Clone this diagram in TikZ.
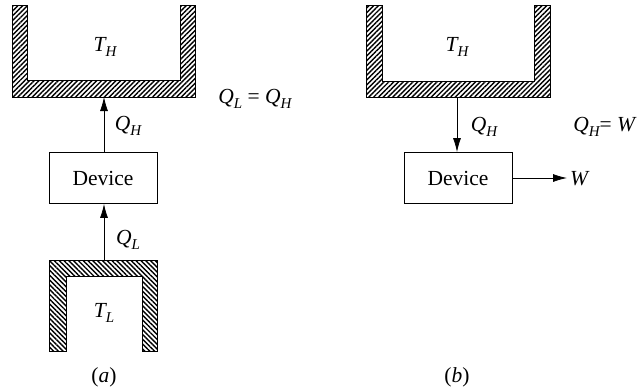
\documentclass[tikz,border=0pt]{standalone}
\usepackage{fontspec}
\setmainfont{Liberation Serif}
\usetikzlibrary{patterns.meta,arrows.meta}
\newcommand{\qsub}[2]{{\itshape #1}\raisebox{-0.45ex}{\fontsize{15}{15}\selectfont\itshape #2}}
\begin{document}
\begin{tikzpicture}[x=1pt,y=-1pt,
  wall/.style={draw=black,line width=0.9pt},
  hatchNE/.style={pattern={Lines[angle=45,distance=3.4pt,line width=1.4pt]}},
  hatchNW/.style={pattern={Lines[angle=-45,distance=3.4pt,line width=1.4pt]}},
  devbox/.style={draw,line width=0.8pt,minimum width=108pt,minimum height=51pt,inner sep=0pt,font=\fontsize{21.5}{24}\selectfont},
  lbl/.style={font=\fontsize{21.5}{24}\selectfont,inner sep=1pt},
  flow/.style={line width=0.8pt,-{Latex[length=14pt,width=8pt]}}]
\useasboundingbox (0,0) rectangle (640,389);
% (a) hot reservoir
\path[wall,hatchNE] (12,5) -- (12,97) -- (195,97) -- (195,5) -- (180,5) -- (180,80) -- (27,80) -- (27,5) -- cycle;
\coordinate (ha) at (104,97);
\node[lbl] (tha) at (105,47) {\qsub{T}{H}};
% (a) device
\node[devbox] (da) at (103,178) {Device};
% (a) cold reservoir
\path[wall,hatchNW] (49,351) -- (49,260) -- (157,260) -- (157,351) -- (142,351) -- (142,276) -- (66,276) -- (66,351) -- cycle;
\coordinate (ca) at (104,260);
\node[lbl] (tla) at (104,313) {\qsub{T}{L}};
\draw[flow] (ca) -- (da.south -| ca);
\draw[flow] (da.north -| ha) -- (ha);
\node[lbl] (qla) at (128,240) {\qsub{Q}{L}};
\node[lbl] (qha) at (128,126) {\qsub{Q}{H}};
\node[lbl] (eqa) at (255,99) {\qsub{Q}{L} = \qsub{Q}{H}};
\node[lbl] (capa) at (104,377) {(\textit{a})};
% (b) hot reservoir
\path[wall,hatchNE] (366,5) -- (366,97) -- (550,97) -- (550,5) -- (534,5) -- (534,81) -- (382,81) -- (382,5) -- cycle;
\coordinate (hb) at (457,97);
\node[lbl] (thb) at (457,47) {\qsub{T}{H}};
\node[devbox] (db) at (458,178) {Device};
\draw[flow] (hb) -- (db.north -| hb);
\node[lbl] (qhb) at (484,127) {\qsub{Q}{H}};
\node[lbl] (eqb) at (605,127) {\qsub{Q}{H}= \textit{W}};
\coordinate (wend) at (567,178);
\node[lbl,anchor=west] (wb) at (569,179) {\textit{W}};
\draw[flow] (db.east) -- (db.east -| wend);
\node[lbl] (capb) at (457,377) {(\textit{b})};
\end{tikzpicture}
\end{document}
